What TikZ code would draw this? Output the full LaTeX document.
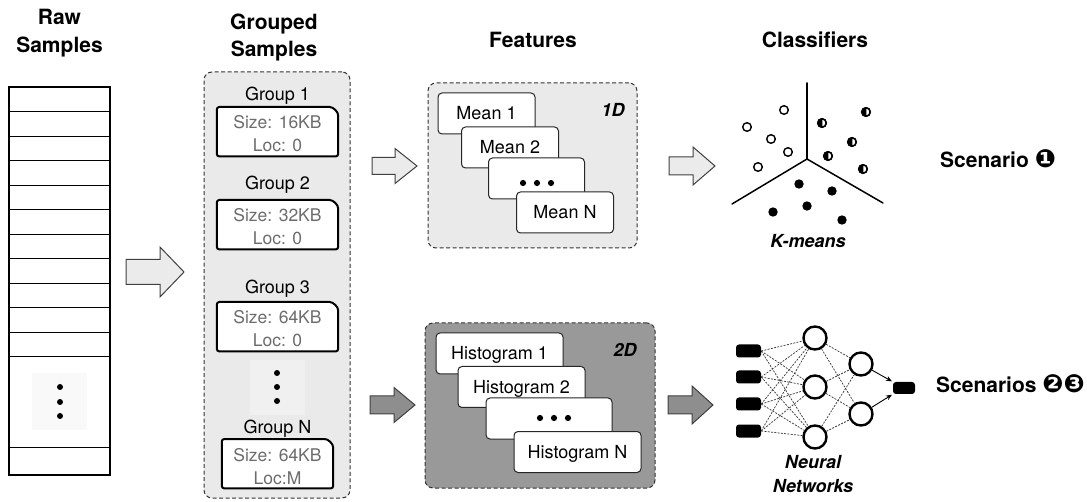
\documentclass[tikz,border=0pt]{standalone}
\usepackage{fontspec}
\setmainfont{TeX Gyre Heros}
\newfontfamily\symfont{DejaVu Sans}
\newcommand\circfont{\symfont\fontsize{25}{25}\selectfont}
\usetikzlibrary{arrows.meta}

\definecolor{panel}{HTML}{EAEAEA}
\definecolor{darkpanel}{HTML}{999999}
\definecolor{arrowlight}{HTML}{EBEBEB}
\definecolor{arrowdark}{HTML}{8E8E8E}
\definecolor{softtext}{HTML}{6C6C6C}
\definecolor{faintsq}{HTML}{F0F0F0}
\definecolor{faintwhite}{HTML}{F9F9F9}

% block arrow: x0 = tail, xb = head base, xt = tip, yc = axis,
% hs = half shaft width, hh = half head width, #7 = fill colour
\newcommand\blockarrow[7]{%
  \draw[blockarrowline, fill=#7] (#1,#4-#5) -- (#2,#4-#5) -- (#2,#4-#6) -- (#3,#4)
    -- (#2,#4+#6) -- (#2,#4+#5) -- (#1,#4+#5) -- cycle;}

% group card with a wide rounded top-right corner:
% name, centre x, top y, width, first line, second line
\newcommand\groupcard[6]{%
  \node[minimum width=#4, minimum height=49, inner sep=0, anchor=north] (#1) at (#2,#3) {};
  \draw[line width=2pt, fill=white, rounded corners=2.5pt]
    (#1.south west) -- (#1.north west) -- ([xshift=-11pt]#1.north east)
    .. controls ([xshift=-4.9pt]#1.north east) and ([yshift=-4.9pt]#1.north east)
    .. ([yshift=-11pt]#1.north east) -- (#1.south east) -- cycle;
  \node[sizetext] at (#2,#3+22) {#5};
  \node[sizetext] at (#2,#3+45) {#6};}

\begin{document}
\begin{tikzpicture}[x=1pt,y=-1pt,
  title/.style={font=\fontsize{21}{25}\selectfont\bfseries, anchor=base, inner sep=0},
  grouplbl/.style={font=\fontsize{18}{21}\selectfont, anchor=base, inner sep=0},
  sizetext/.style={font=\fontsize{17.5}{21}\selectfont, text=softtext, anchor=base, inner sep=0},
  tag/.style={font=\fontsize{18}{21}\selectfont\bfseries\itshape, inner sep=0},
  panelbox/.style={draw=black!80, dash pattern=on 4pt off 2.5pt, line width=1pt,
    rounded corners=8pt, inner sep=0},
  featcard/.style={draw=black!85, fill=white, line width=1pt, rounded corners=4pt,
    minimum height=41, inner sep=0, font=\fontsize{18}{21}\selectfont,
    text height=13pt, text depth=0pt},
  blockarrowline/.style={draw=black!75, line width=1pt, line join=miter},
  dotmark/.style={circle, fill=black, inner sep=0, minimum size=6.2pt},
  nnin/.style={rectangle, rounded corners=3pt, fill=black, inner sep=0,
    minimum width=25, minimum height=13},
  neuron/.style={circle, draw=black, line width=2.4pt, fill=white, inner sep=0,
    minimum size=23},
  nnedge/.style={draw=black!80, line width=0.7pt, dash pattern=on 2pt off 1.3pt},
  nnout/.style={-{Stealth[length=6pt,width=5pt]}, line width=0.9pt, shorten >=1pt},
  kline/.style={line width=1.5pt, line cap=round},
  opendot/.style={draw=black, line width=1.4pt, fill=white},
]
\useasboundingbox (0,0) rectangle (1087,502);

% ---------- column titles ----------
\node[title] (t1a) at (59.5,25) {Raw};
\node[title] (t1b) at (59.5,53) {Samples};
\node[title] (t2a) at (274,30) {Grouped};
\node[title] (t2b) at (274,57) {Samples};
\node[title] (t3) at (533,48) {Features};
\node[title] (t4) at (815,48) {Classifiers};

% ---------- raw samples ----------
\node[draw, line width=1.6pt, minimum width=101, minimum height=388, inner sep=0] (raw) at (59.5,281) {};
\foreach \k in {1,...,11} \draw[line width=0.9pt] (9,87+24.5*\k) -- (110,87+24.5*\k);
\draw[line width=0.9pt] (9,447) -- (110,447);
\fill[faintwhite] (32,373) rectangle (87,430);
\foreach \yy in {387,402,416} \node[dotmark, minimum size=6pt] at (60,\yy) {};

\blockarrow{126}{160}{184}{272}{12.5}{25}{arrowlight}

% ---------- grouped samples ----------
\node[panelbox, fill=panel, minimum width=146, minimum height=426] (grouped) at (277,285) {};
\node[grouplbl] (gl1) at (277.5,101) {Group 1};
\groupcard{g1}{277.5}{107}{121}{Size: 16KB}{Loc: 0}
\node[grouplbl] (gl2) at (277.5,190) {Group 2};
\groupcard{g2}{277.5}{200}{121}{Size: 32KB}{Loc: 0}
\node[grouplbl] (gl3) at (277.5,294) {Group 3};
\groupcard{g3}{277.5}{302}{121}{Size: 64KB}{Loc: 0}
\fill[faintsq] (250,360) rectangle (305,415);
\foreach \yy in {373,387,401} \node[dotmark, minimum size=6pt] at (277,\yy) {};
\node[grouplbl] (gln) at (277.5,433) {Group N};
\groupcard{gn}{277.5}{439}{111}{Size: 64KB}{Loc:M}

% ---------- features: 1D ----------
\blockarrow{372}{395}{417}{166}{8.5}{17.5}{arrowlight}
\node[panelbox, fill=panel, minimum width=209, minimum height=165] (feat1) at (532.5,165.5) {};
\node[tag] (tag1) at (613,110) {1D};
\node[featcard, minimum width=97] (m1) at (486.5,113.5) {Mean 1};
\node[featcard, minimum width=97] (m2) at (510,147.5) {Mean 2};
\node[featcard, minimum width=96] (md) at (536.5,178.5) {};
\foreach \xx in {523,537,551} \node[dotmark] at (\xx,183) {};
\node[featcard, minimum width=97] (mn) at (565,212.5) {Mean N};
\blockarrow{669}{693}{715}{166}{9}{19}{arrowlight}

% ---------- features: 2D ----------
\blockarrow{370}{394}{415}{405}{9}{17.5}{arrowdark}
\node[panelbox, fill=darkpanel, minimum width=230, minimum height=165] (feat2) at (540,405.5) {};
\node[tag] (tag2) at (625,350) {2D};
\node[featcard, minimum width=127] (h1) at (499.5,353.5) {Histogram 1};
\node[featcard, minimum width=127] (h2) at (521.5,387) {Histogram 2};
\node[featcard, minimum width=126] (hd) at (549,418.5) {};
\foreach \xx in {540,554,568} \node[dotmark] at (\xx,418) {};
\node[featcard, minimum width=127] (hn) at (577.5,452) {Histogram N};
\blockarrow{668}{692}{713}{405}{9}{19}{arrowdark}

% ---------- k-means ----------
\coordinate (kc) at (807,159);
\draw[kline] (kc) -- (807,83);
\draw[kline] (kc) -- (732,204);
\draw[kline] (kc) -- (883,203);
\foreach \p in {(784,110),(747,127),(771,139),(788,152),(758,167)}
  \draw[opendot] \p circle[radius=4.3pt];
\foreach \p in {(822,123),(866,112),(852,142),(828,156),(863,169)} {
  \draw[opendot] \p circle[radius=4.3pt];
  \begin{scope}
    \clip \p ++(-6,-6) rectangle ++(6.3,12);
    \fill \p circle[radius=4.3pt];
  \end{scope}
  \draw[line width=1.4pt] \p circle[radius=4.3pt];
}
\foreach \p in {(799,184),(832,191),(807,206),(773,212),(842,220)}
  \fill \p circle[radius=4.7pt];
\node[tag, anchor=base] (km) at (808,248) {K-means};

% ---------- neural network ----------
\foreach \i/\yy in {1/351,2/377,3/404,4/431} \node[nnin] (i\i) at (748.5,\yy) {};
\foreach \h/\yy in {1/338,2/387,3/437} \node[neuron] (h\h) at (815,\yy) {};
\foreach \g/\yy in {1/364,2/414} \node[neuron] (g\g) at (861,\yy) {};
\node[nnin, minimum width=22, minimum height=12] (out) at (904,388) {};
\foreach \i in {1,...,4} \foreach \h in {1,2,3} \draw[nnedge] (i\i.east) -- (h\h);
\foreach \h in {1,2,3} \foreach \g in {1,2} \draw[nnedge] (h\h) -- (g\g);
\draw[nnout] (g1) -- (out.north west);
\draw[nnout] (g2) -- (out.south west);
\node[tag, anchor=base] (nn1) at (813,468) {Neural};
\node[tag, anchor=base] (nn2) at (813,492) {Networks};

% ---------- scenarios ----------
\node[title, anchor=base west] (s1) at (940,168) {Scenario {\circfont ❶}};
\node[title, anchor=base west] (s2) at (936,392) {Scenarios {\circfont ❷❸}};
\end{tikzpicture}
\end{document}
